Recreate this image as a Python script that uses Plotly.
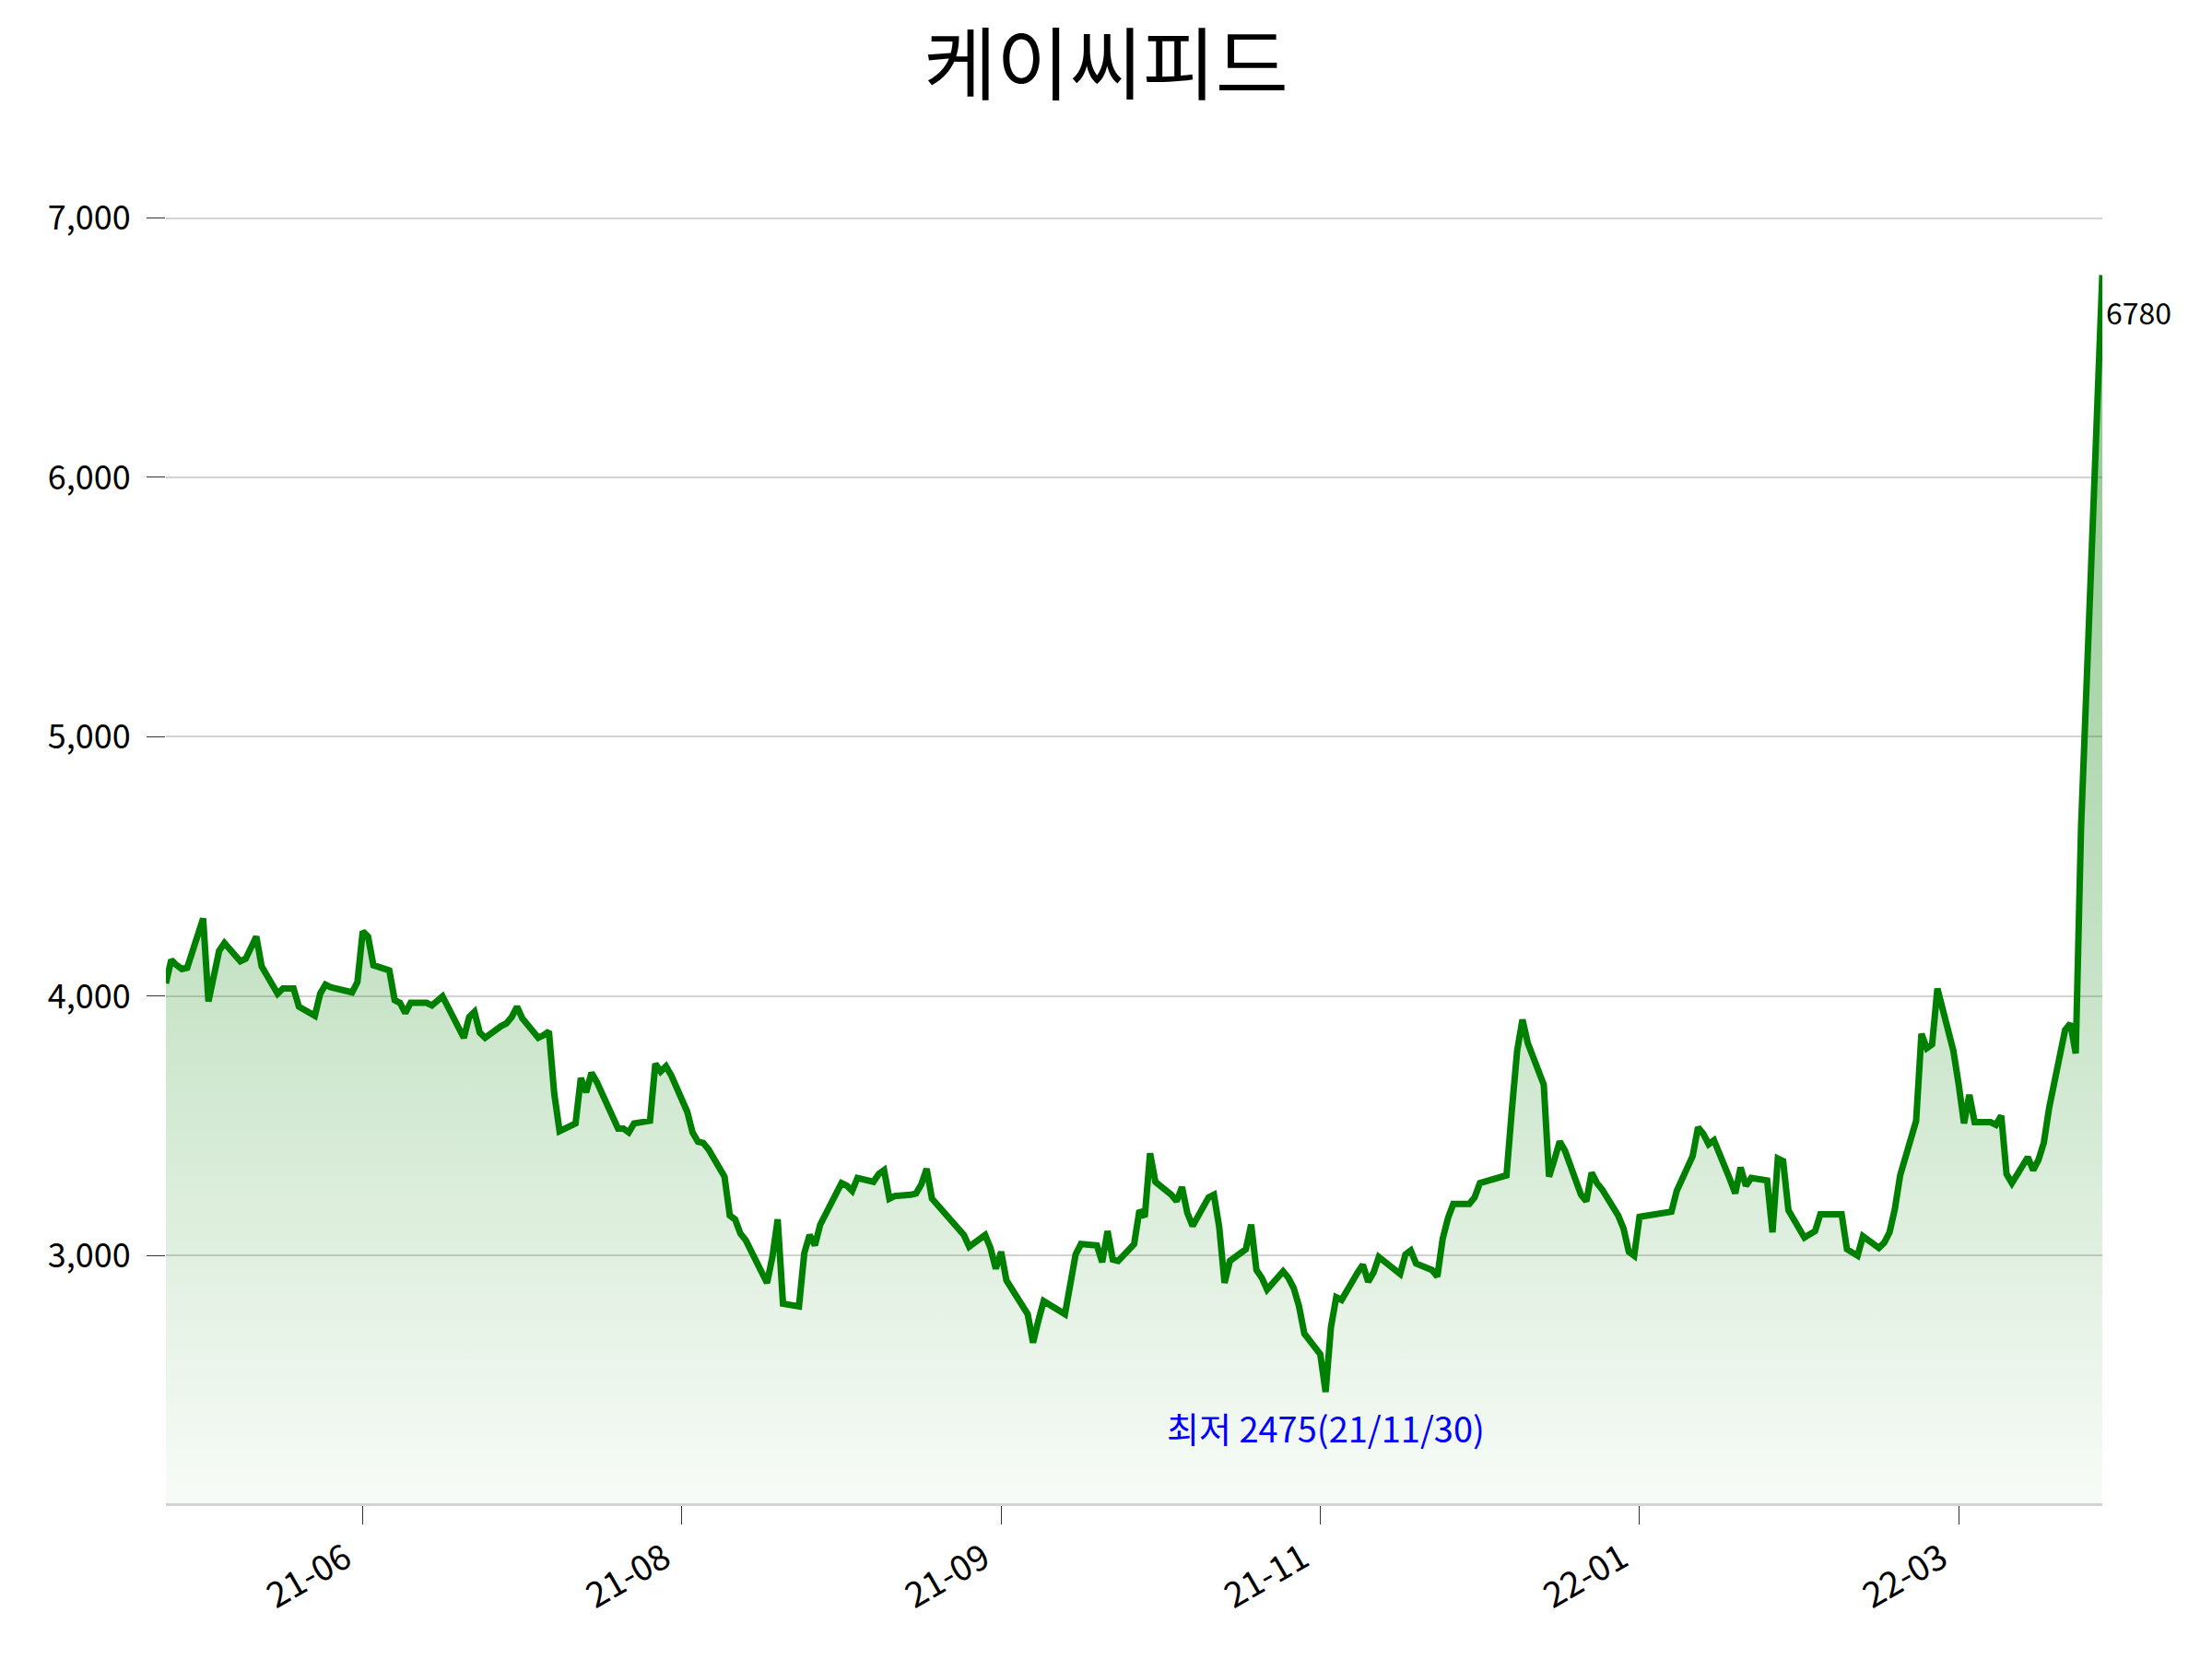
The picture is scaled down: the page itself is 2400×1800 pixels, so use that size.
import pandas as pd
import plotly.graph_objects as go

title = "케이씨피드"
start_date = "2021-04-26"
end_date = "2022-04-25"
krx_holidays = ["2021-05-05", "2021-05-19", "2021-08-16", "2021-09-20", "2021-09-21",
                "2021-09-22", "2021-10-04", "2021-10-11", "2021-12-31", "2022-01-31",
                "2022-02-01", "2022-02-02", "2022-03-01", "2022-03-09"]

close = [
    # 2021-04
    4050, 4140, 4120, 4105, 4110,
    # 2021-05
    4300, 3980, 4175, 4205, 4135, 4145, 4185, 4230, 4115, 4010, 4030, 4030, 3960, 3925,
    4010, 4045, 4035, 4030, 4015,
    # 2021-06
    4055, 4250, 4230, 4120, 4100, 3985, 3975, 3935, 3975, 3975, 3965, 3980, 4000, 3960,
    3840, 3920, 3940, 3860, 3840, 3885, 3895, 3920,
    # 2021-07
    3960, 3915, 3840, 3850, 3865, 3625, 3480, 3510, 3685, 3630, 3705, 3670, 3545, 3490,
    3490, 3475, 3510, 3520, 3740, 3710, 3730, 3695,
    # 2021-08
    3555, 3475, 3440, 3435, 3410, 3305, 3155, 3140, 3085, 3060, 2895, 2995, 3140, 2815,
    2805, 3010, 3080, 3040, 3120, 3240, 3280,
    # 2021-09
    3270, 3250, 3300, 3285, 3315, 3330, 3220, 3230, 3235, 3240, 3275, 3335, 3220, 3080,
    3035, 3080, 3030, 2950, 3015,
    # 2021-10
    2905, 2775, 2665, 2750, 2825, 2775, 2900, 3005, 3045, 3040, 2975, 3095, 2985, 2980,
    3045, 3175, 3150, 3395, 3285,
    # 2021-11
    3235, 3210, 3265, 3165, 3115, 3225, 3235, 3110, 2895, 2980, 3025, 3120, 2945, 2915,
    2870, 2940, 2915, 2875, 2805, 2700, 2620, 2475,
    # 2021-12
    2725, 2840, 2830, 2935, 2965, 2900, 2935, 2995, 2950, 2930, 3005, 3020, 2970, 2945,
    2920, 3065, 3145, 3200, 3200, 3225, 3280, 3285,
    # 2022-01
    3310, 3560, 3790, 3910, 3820, 3660, 3305, 3370, 3440, 3405, 3235, 3210, 3320, 3280,
    3255, 3155, 3105, 3015, 3000, 3150,
    # 2022-02
    3170, 3250, 3385, 3495, 3470, 3430, 3445, 3295, 3240, 3340, 3270, 3300, 3290, 3090,
    3375, 3365, 3175, 3070,
    # 2022-03
    3095, 3160, 3160, 3160, 3025, 3000, 3075, 3030, 3050, 3090, 3180, 3310, 3520, 3855,
    3800, 3815, 4030, 3790, 3660, 3510, 3620,
    # 2022-04
    3515, 3515, 3505, 3540, 3315, 3280, 3380, 3330, 3370, 3435, 3570, 3870, 3895, 3780,
    4650, 5180, 6780,
]

tick_dates = ["2021-06-02", "2021-08-01", "2021-09-30", "2021-11-29", "2022-01-28", "2022-03-29"]
tick_labels = ["21-06", "21-08", "21-09", "21-11", "22-01", "22-03"]
y_ticks = [3000, 4000, 5000, 6000, 7000]
y_range = [2046, 7119]

dates = pd.bdate_range(start_date, end_date)
dates = dates[~dates.isin(pd.to_datetime(krx_holidays))]
assert len(dates) == len(close), (len(dates), len(close))

i_low = min(range(len(close)), key=lambda i: close[i])
low_val = close[i_low]
low_date = dates[i_low]
last_val = close[-1]

FONT = "Noto Sans CJK KR"

fig = go.Figure()
fig.add_trace(go.Scatter(
    x=dates, y=close, mode="lines",
    line=dict(color="rgb(0,128,0)", width=7),
    fill="tozeroy",
    fillgradient=dict(
        type="vertical",
        colorscale=[[0, "rgba(0,128,0,0.03)"], [1, "rgba(0,128,0,0.47)"]],
        start=y_range[0], stop=last_val,
    ),
    hoverinfo="skip", showlegend=False,
))

fig.add_annotation(
    x=low_date, y=low_val,
    text=f"최저 {low_val}({low_date:%y/%m/%d})",
    showarrow=False, xanchor="center", yanchor="middle", yshift=-38,
    font=dict(family=FONT, size=38, color="blue"),
)
fig.add_annotation(
    x=dates[-1], y=last_val, text=str(last_val),
    showarrow=False, xanchor="left", yanchor="middle", xshift=2, yshift=-40,
    font=dict(family=FONT, size=32, color="black"),
)

fig.update_layout(
    width=2400, height=1800,
    margin=dict(l=180, r=119, t=203, b=169),
    paper_bgcolor="white", plot_bgcolor="white",
    font=dict(family=FONT, size=36, color="black"),
    title=dict(text=title, x=0.5, xanchor="center", y=1 - 72 / 1800, yanchor="middle",
               font=dict(family=FONT, size=86, color="black")),
    xaxis=dict(
        type="date", range=[start_date, end_date],
        tickvals=tick_dates, ticktext=tick_labels, tickangle=-30,
        ticks="outside", ticklen=20, tickcolor="#333333", tickwidth=1,
        ticklabelshift=-19,
        showgrid=False, zeroline=False,
        showline=True, linecolor="#d3d3d3", linewidth=3,
        tickfont=dict(family=FONT, size=38, color="black"),
    ),
    yaxis=dict(
        range=y_range, tickvals=y_ticks, tickformat=",d",
        ticks="outside", ticklen=20, tickcolor="#333333", tickwidth=1,
        ticklabelstandoff=10,
        showgrid=True, gridcolor="#d3d3d3", gridwidth=1.5,
        zeroline=False, showline=False,
        tickfont=dict(family=FONT, size=36, color="black"),
    ),
)

fig.write_html("out.html")
